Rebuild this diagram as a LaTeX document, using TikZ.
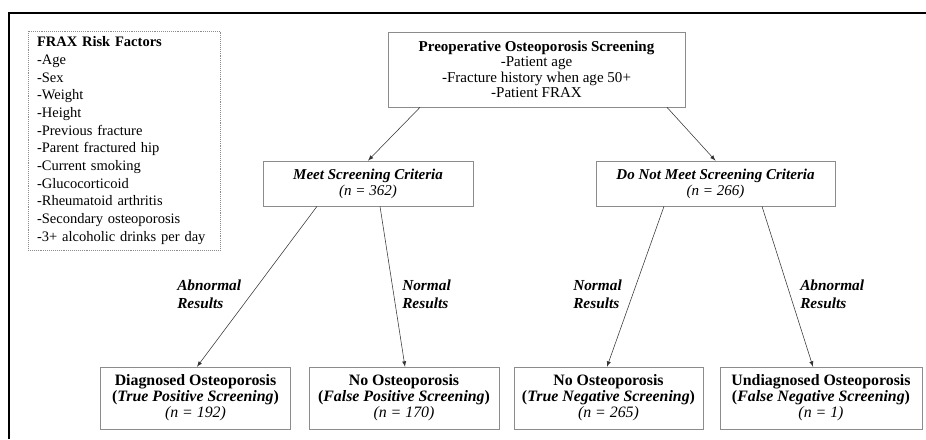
\documentclass[tikz,border=0pt]{standalone}
\usepackage{fontspec}
\setmainfont{Liberation Serif}
\usetikzlibrary{calc}

\begin{document}
\begin{tikzpicture}[x=0.0257cm, y=-0.0257cm,
	 inner sep=2pt,
	 box/.style={draw=black!45, align=center, font=\fontsize{11}{11.8}\selectfont},
	 outbox/.style={box, minimum height=1.59cm, font=\fontsize{11.6}{11.8}\selectfont},
	 lbl/.style={anchor=north west, align=left, inner sep=0pt, font=\fontsize{11.2}{12.6}\selectfont\bfseries\itshape},
	 arrow/.style={->, >=latex, draw=black!80, thin}]
	    \useasboundingbox (0,0) rectangle (926,439);
	    \draw[line width=1pt] (926,13) -- (9,13) -- (9,439);
	    % risk factor list
	    \node (frax) at (124,140.5) [draw=black!45, densely dotted, align=left,
	        text width=4.47cm, minimum height=5.63cm, inner xsep=0.23cm,
	        font=\fontsize{10.6}{12.9}\selectfont] {\textbf{FRAX Risk Factors}\\-Age\\-Sex\\-Weight\\-Height\\-Previous fracture\\-Parent fractured hip\\-Current smoking\\-Glucocorticoid\\-Rheumatoid arthritis\\-Secondary osteoporosis\\-3+ alcoholic drinks per day};
	    % screening boxes
	    \node (screen) at (536.5,69.5) [box, minimum width=7.63cm, minimum height=1.93cm, font=\fontsize{11}{11.2}\selectfont] {\textbf{Preoperative Osteoporosis Screening}\\-Patient age\\-Fracture history when age 50+\\-Patient FRAX};
	    \node (meet) at (368,183.5) [box, minimum width=5.40cm, minimum height=1.16cm] {\textbf{\textit{Meet Screening Criteria}}\\\textit{(n = 362)}};
	    \node (notmeet) at (715.5,183.5) [box, minimum width=6.14cm, minimum height=1.16cm] {\textbf{\textit{Do Not Meet Screening Criteria}}\\\textit{(n = 266)}};
	    % outcome boxes
	    \node (tp) at (195.5,398) [outbox, minimum width=4.88cm] {\textbf{Diagnosed Osteoporosis}\\\textbf{(\textit{True Positive Screening})}\\\textit{(n = 192)}};
	    \node (fp) at (404,398) [outbox, minimum width=4.88cm] {\textbf{No Osteoporosis}\\\textbf{(\textit{False Positive Screening})}\\\textit{(n = 170)}};
	    \node (tn) at (608.5,398) [outbox, minimum width=4.86cm] {\textbf{No Osteoporosis}\\\textbf{(\textit{True Negative Screening})}\\\textit{(n = 265)}};
	    \node (fn) at (821,398) [outbox, minimum width=5.19cm] {\textbf{Undiagnosed Osteoporosis}\\\textbf{(\textit{False Negative Screening})}\\\textit{(n = 1)}};
	    % connectors
	    \draw[arrow] ($(screen.south)+(-116.5,0)$) -- (meet.north);
	    \draw[arrow] ($(screen.south)+(130.5,0)$) -- (notmeet.north);
	    \draw[arrow] ($(meet.south)+(-51,0)$) -- ($(tp.north)+(1.5,0)$);
	    \draw[arrow] ($(meet.south)+(12,0)$) -- ($(fp.north)+(1,0)$);
	    \draw[arrow] ($(notmeet.south)+(-51.5,0)$) -- ($(tn.north)+(-1.5,0)$);
	    \draw[arrow] ($(notmeet.south)+(46.5,0)$) -- ($(fn.north)+(-8,0)$);
	    % edge labels
	    \node (abn1) at (177,280) [lbl] {Abnormal\\Results};
	    \node (nrm1) at (402,280) [lbl] {Normal\\Results};
	    \node (nrm2) at (573,280) [lbl] {Normal\\Results};
	    \node (abn2) at (800,280) [lbl] {Abnormal\\Results};
\end{tikzpicture}
\end{document}
